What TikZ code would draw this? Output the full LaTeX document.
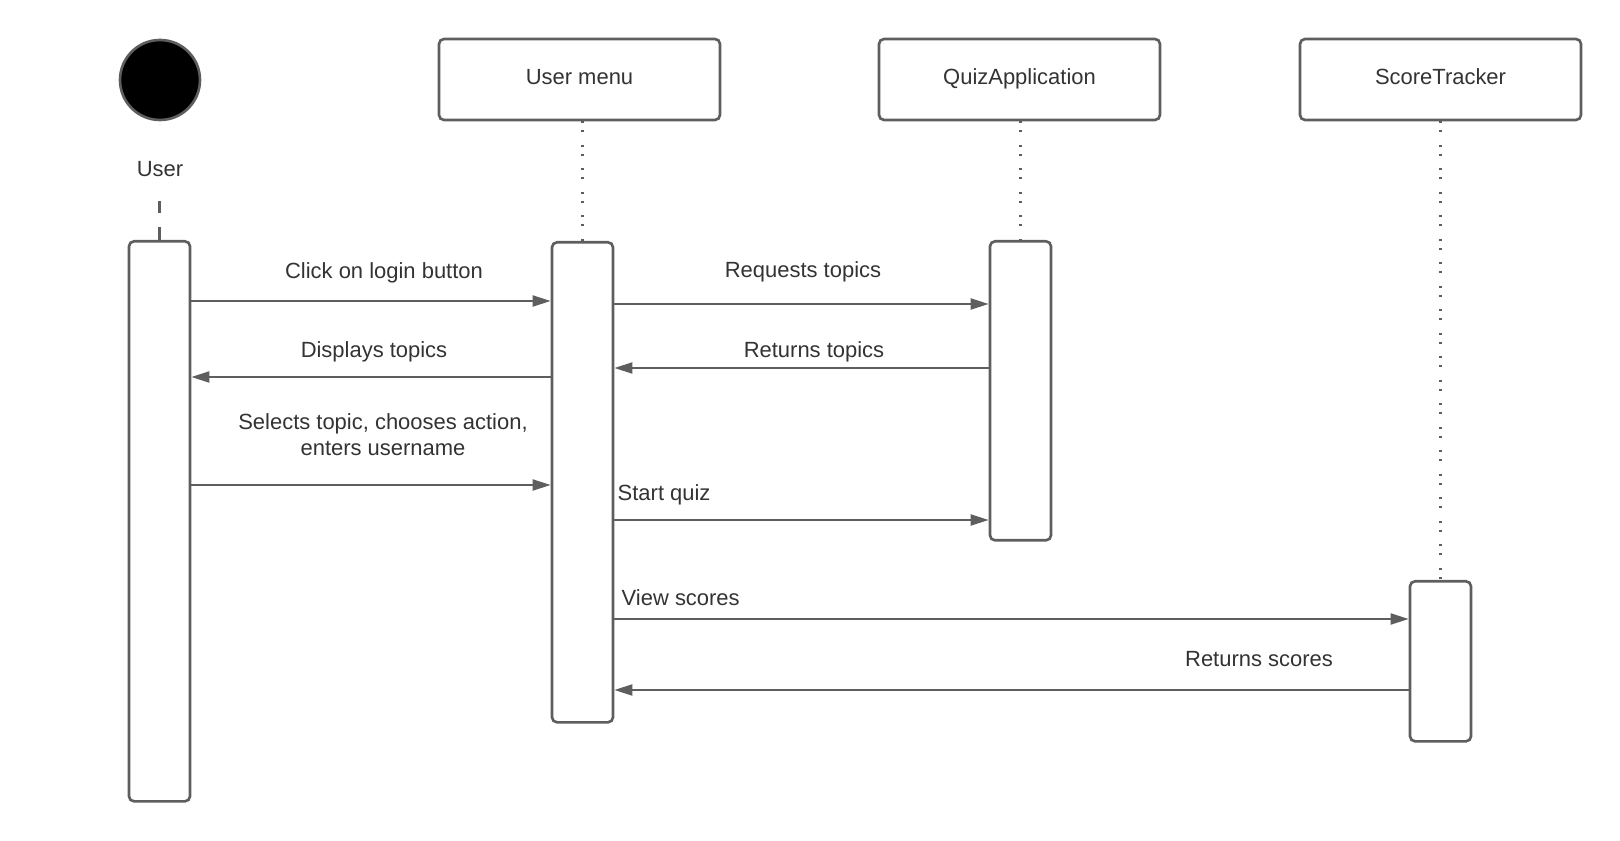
\documentclass[tikz,border=0pt]{standalone}
\usepackage{fontspec}
\setmainfont{Liberation Sans}
\usetikzlibrary{arrows.meta,positioning}
\definecolor{linegray}{HTML}{5E5E5E}
\definecolor{textgray}{HTML}{333333}
\tikzset{
  header/.style={draw=linegray, line width=0.75pt, rounded corners=0.05cm,
    minimum width=2.81cm, minimum height=0.81cm, text=textgray,
    text height=4.6pt, text depth=2.0pt,
    font=\fontsize{6.25}{7.4}\selectfont},
  actbox/.style={draw=linegray, line width=0.75pt, rounded corners=0.05cm,
    minimum width=0.61cm, inner sep=0, anchor=north},
  msg/.style={draw=linegray, line width=0.55pt,
    -{Triangle[length=0.18cm,width=0.11cm]}},
  msglabel/.style={text=textgray, inner sep=0,
    font=\fontsize{6.25}{7.4}\selectfont},
  lifeline/.style={draw=linegray, line width=0.6pt,
    dash pattern=on 0.02cm off 0.07cm on 0.02cm off 0.125cm},
}

\begin{document}
\begin{tikzpicture}
\useasboundingbox (0cm,0cm) rectangle (16.2cm,8.4cm);

% actor
\node[circle, fill=black, draw=linegray, line width=0.75pt, minimum size=0.80cm, inner sep=0] (actor) at (1.60cm,7.60cm) {};
\node[msglabel] (actorname) at (1.60cm,6.71cm) {User};
\node[actbox, minimum height=5.60cm] (uact) at (1.595cm,6.00cm) {};
\draw[linegray, line width=0.75pt, dash pattern=on 0.13cm off 0.14cm] (uact.north) -- ++(0cm,0.39cm);

% objects
\node[header] (menu) at (5.795cm,7.605cm) {User menu};
\node[header] (quiz) at (10.195cm,7.605cm) {QuizApplication};
\node[header] (score) at (14.405cm,7.605cm) {ScoreTracker};

\node[actbox, minimum height=4.80cm] (mact) at (5.825cm,5.99cm) {};
\node[actbox, minimum height=2.99cm] (qact) at (10.205cm,6.00cm) {};
\node[actbox, minimum height=1.60cm] (sact) at (14.405cm,2.60cm) {};

\draw[lifeline] (menu.south -| mact.north) -- (mact.north);
\draw[lifeline] (quiz.south -| qact.north) -- (qact.north);
\draw[lifeline] (score.south -| sact.north) -- (sact.north);

% messages
\draw[msg] (uact.east |- 0,5.39cm) -- (mact.west |- 0,5.39cm);
\node[msglabel] (login) at (3.84cm,5.675cm) {Click on login button};

\draw[msg] (mact.west |- 0,4.63cm) -- (uact.east |- 0,4.63cm);
\node[msglabel] (display) at (3.74cm,4.885cm) {Displays topics};

\draw[msg] (uact.east |- 0,3.55cm) -- (mact.west |- 0,3.55cm);
\node[msglabel, align=center] (select) at (3.83cm,4.05cm) {Selects topic, chooses action,\\enters username};

\draw[msg] (mact.east |- 0,5.36cm) -- (qact.west |- 0,5.36cm);
\node[msglabel] (request) at (8.03cm,5.685cm) {Requests topics};

\draw[msg] (qact.west |- 0,4.72cm) -- (mact.east |- 0,4.72cm);
\node[msglabel] (topics) at (8.14cm,4.885cm) {Returns topics};

\draw[msg] (mact.east |- 0,3.20cm) -- (qact.west |- 0,3.20cm);
\node[msglabel, anchor=west] (start) at (6.17cm,3.45cm) {Start quiz};

\draw[msg] (mact.east |- 0,2.21cm) -- (sact.west |- 0,2.21cm);
\node[msglabel, anchor=west] (view) at (6.21cm,2.42cm) {View scores};

\draw[msg] (sact.west |- 0,1.50cm) -- (mact.east |- 0,1.50cm);
\node[msglabel] (scores) at (12.59cm,1.81cm) {Returns scores};
\end{tikzpicture}
\end{document}
